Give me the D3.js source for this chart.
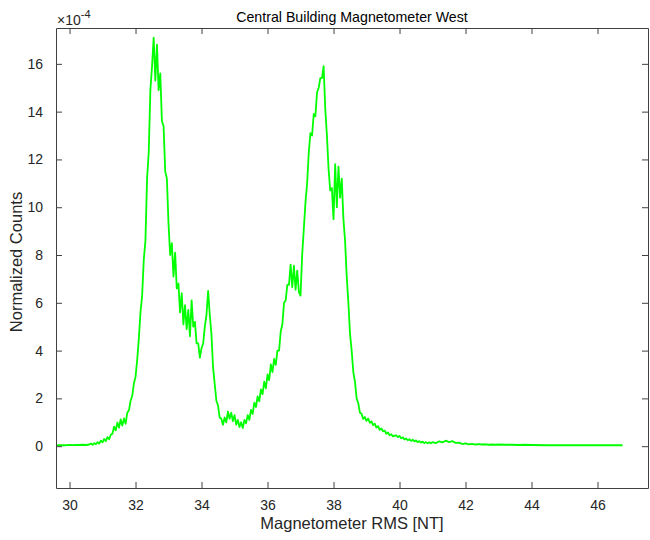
<!DOCTYPE html>
<html>
<head>
<meta charset="utf-8">
<script src="https://cdn.jsdelivr.net/npm/d3@7"></script>
<style>
  html, body { margin: 0; padding: 0; background: #fff; }
  svg { display: block; font-family: "Liberation Sans", Arial, Helvetica, sans-serif; }
</style>
</head>
<body>
<svg id="chart" width="650" height="540"></svg>
<script>
// ---- Data (counts in units of 1e-4) ----
const title = "Central Building Magnetometer West";
const xLabel = "Magnetometer RMS [NT]";
const yLabel = "Normalized Counts";
const xTicks = [30, 32, 34, 36, 38, 40, 42, 44, 46];
const yTicks = [0, 2, 4, 6, 8, 10, 12, 14, 16];
const yExponent = -4;

const rms = [
  29.59, 29.7, 29.8, 29.9, 30.0, 30.1, 30.2, 30.3, 30.4, 30.5,
  30.60, 30.65, 30.70, 30.75, 30.80, 30.85, 30.90, 30.95, 31.00, 31.05,
  31.10, 31.15, 31.20, 31.25, 31.30, 31.35, 31.40, 31.45, 31.50, 31.55,
  31.60, 31.65, 31.70, 31.75, 31.80, 31.85, 31.90, 31.95, 32.00, 32.05,
  32.10, 32.15, 32.20, 32.25, 32.30, 32.35, 32.40, 32.45, 32.50, 32.55,
  32.60, 32.65, 32.70, 32.75, 32.80, 32.85, 32.90, 32.95, 33.00, 33.05,
  33.10, 33.15, 33.20, 33.25, 33.30, 33.35, 33.40, 33.45, 33.50, 33.55,
  33.60, 33.65, 33.70, 33.75, 33.80, 33.85, 33.90, 33.95, 34.00, 34.05,
  34.10, 34.15, 34.20, 34.25, 34.30, 34.35, 34.40, 34.45, 34.50, 34.55,
  34.60, 34.65, 34.70, 34.75, 34.80, 34.85, 34.90, 34.95, 35.00, 35.05,
  35.10, 35.15, 35.20, 35.25, 35.30, 35.35, 35.40, 35.45, 35.50, 35.55,
  35.60, 35.65, 35.70, 35.75, 35.80, 35.85, 35.90, 35.95, 36.00, 36.05,
  36.10, 36.15, 36.20, 36.25, 36.30, 36.35, 36.40, 36.45, 36.50, 36.55,
  36.60, 36.65, 36.70, 36.75, 36.80, 36.85, 36.90, 36.95, 37.00, 37.05,
  37.10, 37.15, 37.20, 37.25, 37.30, 37.35, 37.40, 37.45, 37.50, 37.55,
  37.60, 37.65, 37.70, 37.75, 37.80, 37.85, 37.90, 37.95, 38.00, 38.05,
  38.10, 38.15, 38.20, 38.25, 38.30, 38.35, 38.40, 38.45, 38.50, 38.55,
  38.60, 38.65, 38.70, 38.75, 38.80, 38.85, 38.90, 38.95, 39.00, 39.05,
  39.10, 39.15, 39.20, 39.25, 39.30, 39.35, 39.40, 39.45, 39.50, 39.55,
  39.60, 39.65, 39.70, 39.75, 39.80, 39.85, 39.90, 39.95, 40.00, 40.05,
  40.10, 40.15, 40.20, 40.25, 40.30, 40.35, 40.40, 40.45, 40.50, 40.55,
  40.60, 40.65, 40.70, 40.75, 40.80, 40.85, 40.90, 40.95, 41.00,
  41.1, 41.2, 41.3, 41.4, 41.5, 41.6, 41.7, 41.8, 41.9, 42.0,
  42.1, 42.2, 42.3, 42.4, 42.5, 42.6, 42.7, 42.8, 42.9, 43.0,
  43.2, 43.4, 43.6, 43.8, 44.0, 44.5, 45.0, 45.5, 46.0, 46.5, 46.76
];

const counts = [
  0.04, 0.04, 0.04, 0.04, 0.05, 0.04, 0.05, 0.05, 0.06, 0.05,
  0.07, 0.11, 0.06, 0.13, 0.08, 0.17, 0.11, 0.23, 0.16, 0.30,
  0.21, 0.38, 0.29, 0.48, 0.52, 0.82, 0.66, 0.99, 0.78, 1.12,
  0.86, 1.16, 0.94, 1.40, 1.50, 1.90, 2.10, 2.62, 2.90, 3.60,
  4.50, 5.60, 6.30, 7.80, 8.60, 11.2, 12.3, 14.9, 15.9, 17.1,
  15.3, 16.8, 14.9, 15.6, 13.6, 13.4, 11.5, 11.2, 9.3, 8.0,
  8.5, 7.1, 8.1, 6.6, 6.8, 5.6, 6.4, 5.1, 5.9, 4.9,
  5.7, 4.6, 6.1, 5.0, 5.2, 4.3, 4.3, 3.7, 4.1, 4.3,
  5.0, 5.5, 6.5, 5.5, 4.7, 3.3, 2.6, 1.9, 1.7, 1.2,
  1.15, 0.90, 1.20, 1.00, 1.45, 1.15, 1.40, 1.05, 1.30, 0.90,
  1.10, 0.80, 1.00, 0.76, 1.10, 0.96, 1.30, 1.10, 1.52, 1.35,
  1.82, 1.64, 2.08, 1.88, 2.38, 2.18, 2.70, 2.42, 3.00, 2.76,
  3.42, 3.10, 3.65, 3.40, 4.00, 4.00, 4.80, 5.10, 6.00, 6.10,
  6.75, 6.75, 7.60, 6.65, 7.55, 6.55, 7.35, 6.45, 6.30, 8.00,
  9.10, 10.2, 11.0, 12.3, 13.1, 13.0, 13.9, 13.8, 14.8, 15.0,
  15.4, 15.4, 15.9, 14.1, 13.0, 11.6, 10.7, 10.8, 9.5, 11.8,
  10.0, 11.7, 10.4, 11.2, 9.5, 8.6, 7.1, 6.0, 4.7, 4.0,
  3.1, 2.7, 2.0, 1.8, 1.40, 1.36, 1.14, 1.22, 1.06, 1.16,
  0.98, 1.04, 0.88, 0.94, 0.78, 0.84, 0.68, 0.74, 0.62, 0.65,
  0.52, 0.57, 0.46, 0.50, 0.41, 0.44, 0.45, 0.38, 0.43, 0.33,
  0.37, 0.28, 0.32, 0.25, 0.29, 0.22, 0.27, 0.20, 0.24, 0.17,
  0.21, 0.15, 0.19, 0.13, 0.17, 0.12, 0.16, 0.12, 0.17,
  0.13, 0.20, 0.16, 0.23, 0.17, 0.21, 0.14, 0.15, 0.09, 0.12,
  0.08, 0.10, 0.07, 0.09, 0.07, 0.08, 0.06, 0.07, 0.06, 0.07,
  0.06, 0.06, 0.05, 0.06, 0.05, 0.04, 0.04, 0.04, 0.04, 0.04, 0.04
];

// ---- Layout ----
const W = 650, H = 540;
const plot = { left: 56, right: 648, top: 28, bottom: 488 };
const axisColor = "#404040";
const textColor = "#262626";

const svg = d3.select("#chart");

const x = d3.scaleLinear().domain([29.59, 47.53]).range([plot.left, plot.right]);
const y = d3.scaleLinear().domain([-1.75, 17.5]).range([plot.bottom, plot.top]);

const data = rms.map((v, i) => [v, counts[i]]);

// clip
svg.append("defs").append("clipPath").attr("id", "clip")
  .append("rect")
  .attr("x", plot.left).attr("y", plot.top)
  .attr("width", plot.right - plot.left).attr("height", plot.bottom - plot.top);

// line
svg.append("path")
  .datum(data)
  .attr("clip-path", "url(#clip)")
  .attr("fill", "none")
  .attr("stroke", "#00ff00")
  .attr("stroke-width", 1.8)
  .attr("stroke-linejoin", "round")
  .attr("d", d3.line().x(d => x(d[0])).y(d => y(d[1])));

// axes (MATLAB-style inward ticks, box on)
const tickLen = 6;
const bottomAxis = d3.axisBottom(x).tickValues(xTicks).tickSizeInner(-tickLen).tickSizeOuter(0).tickPadding(tickLen + 6).tickFormat(d3.format("d"));
const topAxis = d3.axisTop(x).tickValues(xTicks).tickSizeInner(-tickLen).tickSizeOuter(0).tickFormat("");
const leftAxis = d3.axisLeft(y).tickValues(yTicks).tickSizeInner(-tickLen).tickSizeOuter(0).tickPadding(tickLen + 7).tickFormat(d3.format("d"));
const rightAxis = d3.axisRight(y).tickValues(yTicks).tickSizeInner(-tickLen).tickSizeOuter(0).tickFormat("");

function styleAxis(g) {
  g.select(".domain").attr("stroke", axisColor);
  g.selectAll(".tick line").attr("stroke", axisColor);
  g.selectAll(".tick text").attr("fill", textColor).style("font-size", "14px")
    .style("font-family", '"Liberation Sans", Arial, sans-serif');
}

svg.append("g").attr("transform", `translate(0,${plot.bottom})`).call(bottomAxis).call(styleAxis);
svg.append("g").attr("transform", `translate(0,${plot.top})`).call(topAxis).call(styleAxis);
svg.append("g").attr("transform", `translate(${plot.left},0)`).call(leftAxis).call(styleAxis);
svg.append("g").attr("transform", `translate(${plot.right},0)`).call(rightAxis).call(styleAxis);

// exponent label
const expText = svg.append("text")
  .attr("x", plot.left + 1).attr("y", 25)
  .attr("fill", textColor)
  .style("font-size", "14px");
expText.append("tspan").text("\u00d710");
expText.append("tspan").attr("dy", -7).style("font-size", "11px").text(String(yExponent));

// title
svg.append("text")
  .attr("x", (plot.left + plot.right) / 2).attr("y", 22)
  .attr("text-anchor", "middle")
  .attr("fill", "#000")
  .style("font-size", "14.2px")
  .text(title);

// x label
svg.append("text")
  .attr("x", (plot.left + plot.right) / 2).attr("y", 529)
  .attr("text-anchor", "middle")
  .attr("fill", textColor)
  .style("font-size", "16.5px")
  .text(xLabel);

// y label
svg.append("text")
  .attr("transform", `translate(22,${(plot.top + plot.bottom) / 2 + 4}) rotate(-90)`)
  .attr("text-anchor", "middle")
  .attr("fill", textColor)
  .style("font-size", "16.5px")
  .text(yLabel);
</script>
</body>
</html>
